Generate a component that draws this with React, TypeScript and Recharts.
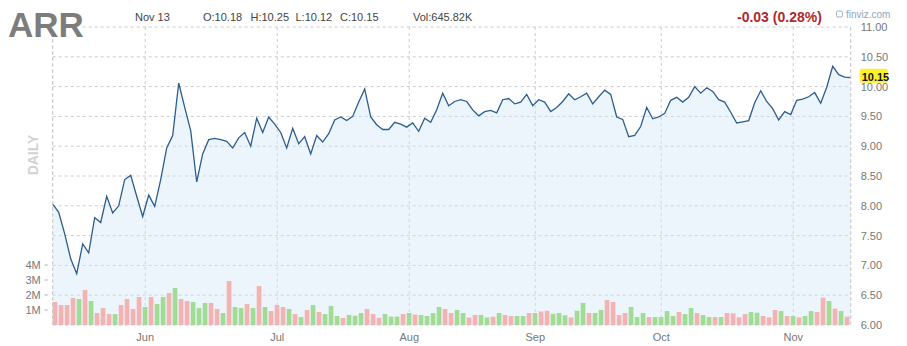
import React from 'react';
import {
  ComposedChart,
  Area,
  Bar,
  XAxis,
  YAxis,
  CartesianGrid,
  ReferenceLine,
} from 'recharts';

// daily closes, May -> Nov 13
const closes = [
  8.03, 7.89, 7.53, 7.11, 6.86, 7.36, 7.21, 7.8, 7.72, 8.16,
  7.88, 8.0, 8.44, 8.51, 8.16, 7.82, 8.18, 7.99, 8.44, 8.97,
  9.18, 10.06, 9.65, 9.26, 8.4, 8.87, 9.11, 9.13, 9.11, 9.08,
  8.97, 9.14, 9.23, 9.0, 9.47, 9.23, 9.49, 9.37, 9.23, 8.97,
  9.3, 9.04, 9.16, 8.87, 9.18, 9.07, 9.21, 9.44, 9.49, 9.43,
  9.5, 9.74, 9.96, 9.49, 9.36, 9.28, 9.28, 9.4, 9.37, 9.32,
  9.39, 9.25, 9.47, 9.4, 9.61, 9.89, 9.68, 9.75, 9.78, 9.75,
  9.61, 9.51, 9.58, 9.6, 9.56, 9.78, 9.8, 9.71, 9.74, 9.87,
  9.68, 9.78, 9.74, 9.58, 9.65, 9.75, 9.88, 9.78, 9.83, 9.89,
  9.71, 9.83, 9.94, 9.87, 9.49, 9.45, 9.16, 9.18, 9.33, 9.65,
  9.46, 9.49, 9.55, 9.77, 9.82, 9.74, 9.82, 10.0, 9.89, 9.98,
  9.92, 9.78, 9.74, 9.57, 9.39, 9.41, 9.43, 9.73, 9.93, 9.75,
  9.63, 9.44, 9.58, 9.53, 9.77, 9.79, 9.83, 9.9, 9.72, 9.99,
  10.34, 10.2, 10.16, 10.15,
];

// volume in millions (last day not visible)
const volumes = [
  1.53, 1.33, 1.33, 1.8, 1.73, 2.33, 1.6, 0.8, 1.13, 0.73,
  0.73, 1.33, 1.73, 1.07, 1.87, 1.2, 1.87, 1.4, 1.87, 2.13,
  2.47, 1.73, 1.6, 1.53, 1.13, 1.47, 1.47, 1.07, 0.8, 2.93,
  1.2, 1.13, 1.4, 1.13, 2.6, 1.2, 0.93, 1.33, 1.2, 1.07,
  0.73, 0.53, 1.0, 1.33, 0.87, 0.73, 1.27, 0.6, 0.47, 0.67,
  0.62, 0.8, 1.07, 0.73, 0.48, 0.73, 0.56, 0.56, 0.73, 0.8,
  0.7, 0.67, 0.6, 0.8, 1.2, 1.07, 0.8, 1.0, 0.8, 0.5,
  0.67, 0.67, 0.5, 0.55, 0.8, 0.67, 0.6, 0.6, 0.6, 0.8,
  0.8, 0.9, 0.95, 0.75, 0.8, 0.65, 0.5, 0.95, 1.47, 0.8,
  0.8, 1.0, 1.67, 1.53, 0.67, 0.8, 1.2, 0.53, 0.8, 0.53,
  0.53, 0.53, 0.93, 0.6, 0.87, 0.73, 1.13, 0.8, 0.67, 0.53,
  0.53, 0.53, 0.8, 0.78, 0.51, 0.73, 0.87, 0.82, 0.6, 0.51,
  1.0, 0.93, 0.6, 0.6, 0.51, 0.6, 0.93, 0.87, 1.82, 1.6,
  1.09, 0.93, 0.56,
];

// 1 = up day (green bar), 0 = down day (red bar)
const upDays = [
  0, 0, 0, 0, 1, 0, 1, 0, 0, 0,
  1, 0, 0, 0, 0, 1, 0, 1, 1, 0,
  1, 0, 0, 1, 1, 1, 0, 0, 1, 0,
  1, 1, 0, 1, 0, 1, 0, 0, 0, 1,
  0, 1, 0, 1, 0, 1, 1, 1, 0, 1,
  1, 1, 0, 0, 0, 1, 1, 1, 0, 1,
  0, 1, 1, 1, 1, 0, 0, 1, 1, 0,
  0, 1, 1, 0, 1, 0, 0, 1, 1, 0,
  1, 0, 0, 1, 1, 1, 0, 1, 1, 0,
  1, 1, 0, 0, 0, 0, 1, 1, 1, 0,
  1, 1, 1, 1, 0, 1, 1, 0, 1, 1,
  0, 1, 0, 0, 0, 0, 1, 1, 0, 0,
  0, 1, 0, 1, 0, 1, 1, 0, 0, 1,
  0, 1, 0,
];

const months = ['Jun', 'Jul', 'Aug', 'Sep', 'Oct', 'Nov'];
const monthStarts = [15, 37, 59, 80, 101, 123];
const priceTicks = [6, 6.5, 7, 7.5, 8, 8.5, 9, 9.5, 10, 10.5, 11];
const volumeTicks = [1e6, 2e6, 3e6, 4e6];

const lastClose = 10.15;

const data = closes.map((c, i) => ({
  i,
  close: c,
  vol: volumes[i] != null ? volumes[i] * 1e6 : null,
  up: upDays[i],
}));

const FONT = '"Liberation Sans", Arial, sans-serif';
const GRID = '#cccccc';

function VolumeBar(props: any) {
  const { x, y, width, height, payload } = props;
  if (!height || height <= 0) return null;
  const cx = x + width / 2;
  return (
    <rect
      x={cx + 0.5}
      y={y}
      width={4.7}
      height={height}
      fill={payload.up ? '#a2dc94' : '#f3b3b3'}
    />
  );
}

function VolumeTick(props: any) {
  const { x, y, payload } = props;
  return (
    <g>
      <text x={x} y={y} dy={4} textAnchor="end" fill="#7a7a7a" fontSize={11} fontFamily={FONT}>
        {payload.value / 1e6 + 'M'}
      </text>
      <line x1={x + 4} x2={x + 7} y1={y} y2={y} stroke="#aaa" />
    </g>
  );
}

function PriceTag(props: any) {
  const vb = props.viewBox || {};
  const x = vb.x + vb.width + 9;
  const y = vb.y;
  return (
    <g>
      <rect x={x} y={y - 9} width={28} height={14} rx={2} fill="#fcf22c" />
      <text x={x + 2} y={y + 3} fontSize={11} fontWeight="bold" fill="#111" fontFamily={FONT}>
        {lastClose.toFixed(2)}
      </text>
    </g>
  );
}

export default function App() {
  return (
    <div style={{ position: 'absolute', left: 0, top: 0, width: 907, height: 346, background: '#fff' }}>
      <ComposedChart
        width={907}
        height={346}
        data={data}
        margin={{ top: 27, right: 0, bottom: 0, left: 0 }}
      >
        <CartesianGrid
          yAxisId="price"
          stroke={GRID}
          strokeDasharray="3 3"
        />
        <XAxis
          dataKey="i"
          type="number"
          domain={[0, 133]}
          ticks={monthStarts.map(m => m + 0.42)}
          tickFormatter={v => months[monthStarts.indexOf(Math.floor(v))]}
          interval={0}
          height={21}
          tickLine={false}
          axisLine={false}
          tickSize={4}
          tickMargin={4}
          tick={{ fontSize: 11, fill: '#777', fontFamily: FONT }}
        />
        <YAxis
          yAxisId="vol"
          orientation="left"
          width={52.7}
          domain={[0, 19.867e6]}
          ticks={volumeTicks}
          interval={0}
          tickLine={false}
          axisLine={false}
          tickSize={6}
          tickMargin={6}
          tick={<VolumeTick />}
        />
        <YAxis
          yAxisId="price"
          orientation="right"
          width={56.3}
          domain={[6, 11]}
          ticks={priceTicks}
          interval={0}
          tickFormatter={v => v.toFixed(2)}
          tickLine={false}
          axisLine={false}
          tickSize={4}
          tickMargin={6}
          tick={{ fontSize: 11, fill: '#777', fontFamily: FONT }}
        />
        <ReferenceLine x={0} yAxisId="price" stroke={GRID} strokeDasharray="3 3" />
        <ReferenceLine x={133} yAxisId="price" stroke={GRID} strokeDasharray="3 3" />
        <Area
          yAxisId="price"
          dataKey="close"
          type="linear"
          stroke="#2c5d8f"
          strokeWidth={1.3}
          fill="#cfe5f8"
          fillOpacity={0.4}
          dot={false}
          activeDot={false}
          isAnimationActive={false}
        />
        <Bar
          yAxisId="vol"
          dataKey="vol"
          barSize={5}
          shape={<VolumeBar />}
          isAnimationActive={false}
        />
        <ReferenceLine
          yAxisId="price"
          y={lastClose}
          stroke="none"
          label={<PriceTag />}
        />
      </ComposedChart>
      <svg
        width={907}
        height={346}
        style={{ position: 'absolute', left: 0, top: 0, pointerEvents: 'none' }}
        fontFamily={FONT}
      >
        <rect x={6} y={10} width={74} height={29} fill="#fff" />
        <text x={8} y={37} fontSize={35} fontWeight="bold" fill="#7d7d7d">ARR</text>
        <text x={135} y={20.5} fontSize={11} fill="#444">Nov 13</text>
        <text x={203} y={20.5} fontSize={11} fill="#444">O:10.18</text>
        <text x={250.5} y={20.5} fontSize={11} fill="#444">H:10.25</text>
        <text x={295.5} y={20.5} fontSize={11} fill="#444">L:10.12</text>
        <text x={340} y={20.5} fontSize={11} fill="#444">C:10.15</text>
        <text x={413} y={20.5} fontSize={11} fill="#444">Vol:645.82K</text>
        <text x={737} y={22} fontSize={14} fontWeight="bold" fill="#b0282b">-0.03 (0.28%)</text>
        <rect x={836.5} y={11} width={6} height={6} rx={1.5} fill="none" stroke="#8fa7bb" strokeWidth={0.9} />
        <text x={846} y={17.5} fontSize={10} fill="#8fa7bb">finviz.com</text>
        <text
          x={33}
          y={155}
          fontSize={14}
          fontWeight="bold"
          fill="#d2d2d2"
          textAnchor="middle"
          dominantBaseline="central"
          transform="rotate(-90 33 155)"
        >
          DAILY
        </text>
      </svg>
    </div>
  );
}
